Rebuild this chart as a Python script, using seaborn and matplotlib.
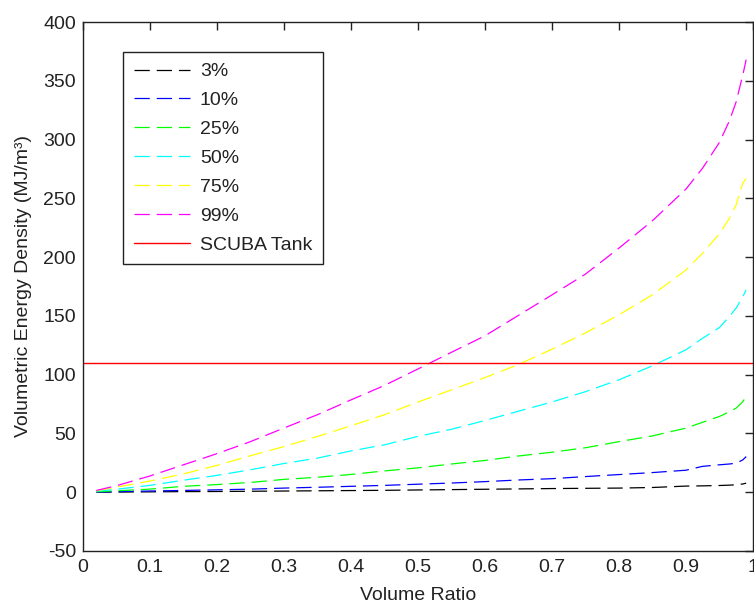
import numpy as np
import pandas as pd
import matplotlib
matplotlib.use("Agg")
import matplotlib.pyplot as plt
from matplotlib.lines import Line2D
import seaborn as sns

# Volume ratio samples shared by all curves
volume_ratio = [0.02, 0.05, 0.10, 0.15, 0.20, 0.25, 0.30, 0.35, 0.40, 0.45, 0.50,
                0.55, 0.60, 0.65, 0.70, 0.75, 0.80, 0.85, 0.90, 0.925, 0.95,
                0.965, 0.975, 0.985, 0.99]

# Volumetric energy density (MJ/m^3) per fill percentage
density_3 = [0.05, 0.1, 0.3, 0.5, 0.6, 0.8, 1.0, 1.2, 1.4, 1.6, 1.9,
             2.2, 2.5, 2.8, 3.1, 3.3, 3.5, 4.0, 5.2, 5.4, 5.7,
             6.0, 6.3, 7.0, 7.7]
density_10 = [0.2, 0.5, 1.0, 1.5, 2.0, 2.6, 3.5, 4.2, 5.0, 5.8, 6.8,
              7.8, 9.0, 10.4, 11.5, 13.3, 15.0, 16.7, 18.7, 22.0, 23.3,
              24.0, 24.7, 27.5, 30.3]
density_25 = [0.4, 1.2, 2.6, 5.0, 6.5, 8.3, 10.9, 12.7, 15.1, 18.1, 20.7,
              24.0, 27.0, 30.8, 34.0, 37.8, 43.0, 47.9, 54.5, 59.5, 64.4,
              68.5, 71.5, 77.0, 81.4]
density_50 = [0.8, 2.5, 5.8, 10.2, 14.3, 19.1, 24.4, 29.0, 35.1, 40.3, 47.5,
              53.5, 61.0, 68.9, 76.7, 85.5, 95.6, 107.5, 121.1, 131.0, 140.0,
              149.5, 156.6, 166.5, 172.0]
density_75 = [1.2, 4.3, 9.5, 15.6, 22.8, 31.0, 38.8, 47.4, 56.5, 65.9, 76.7,
              87.0, 97.5, 108.6, 121.6, 135.5, 150.9, 167.9, 189.0, 203.3, 219.8,
              233.0, 244.5, 263.0, 267.0]
density_99 = [1.5, 5.5, 13.8, 23.3, 32.8, 43.0, 54.6, 65.9, 78.5, 90.8, 104.8,
              119.0, 133.0, 150.4, 167.8, 185.5, 207.6, 230.9, 257.8, 275.7, 297.5,
              316.0, 332.0, 355.0, 368.0]

scuba_tank = 110.0

series_labels = ["3%", "10%", "25%", "50%", "75%", "99%"]
series_values = [density_3, density_10, density_25, density_50, density_75, density_99]
series_colors = ["#000000", "#0000ff", "#00ff00", "#00ffff", "#ffff00", "#ff00ff"]

x_ticks = [0, 0.1, 0.2, 0.3, 0.4, 0.5, 0.6, 0.7, 0.8, 0.9, 1.0]
x_tick_labels = ["0", "0.1", "0.2", "0.3", "0.4", "0.5", "0.6", "0.7", "0.8", "0.9", "1"]
y_ticks = [-50, 0, 50, 100, 150, 200, 250, 300, 350, 400]

df = pd.concat(
    [pd.DataFrame({"ratio": volume_ratio, "density": vals, "fill": lab})
     for lab, vals in zip(series_labels, series_values)],
    ignore_index=True,
)

sns.set_theme(style="white")
plt.rcParams["font.family"] = ["Liberation Sans", "DejaVu Sans"]
plt.rcParams["lines.scale_dashes"] = False
plt.rcParams["axes.unicode_minus"] = False

fig = plt.figure(figsize=(7.54, 6.05), dpi=100)
ax = fig.add_axes([0.110, 0.0893, 0.8885, 0.8743])

text_color = "#222222"
font_size = 14
dash = (11, 5)

sns.lineplot(
    data=df, x="ratio", y="density", hue="fill", style="fill",
    hue_order=series_labels, style_order=series_labels,
    palette=dict(zip(series_labels, series_colors)),
    dashes={lab: dash for lab in series_labels},
    linewidth=0.9, legend=False, ax=ax,
)
ax.axhline(scuba_tank, color="#ff0000", linewidth=1.0)

ax.set_xlim(0, 1)
ax.set_ylim(-50, 400)
ax.set_xticks(x_ticks)
ax.set_xticklabels(x_tick_labels)
ax.set_yticks(y_ticks)
ax.tick_params(axis="both", direction="in", length=6, width=1.0,
               color=text_color, labelsize=font_size, labelcolor=text_color,
               top=True, right=True)
ax.tick_params(axis="x", pad=6)
ax.tick_params(axis="y", pad=5)
for sp in ax.spines.values():
    sp.set_visible(True)
    sp.set_color(text_color)
    sp.set_linewidth(1.0)

ax.set_xlabel("Volume Ratio", fontsize=font_size, color=text_color, labelpad=8)
ax.set_ylabel("Volumetric Energy Density (MJ/m³)", fontsize=font_size,
              color=text_color, labelpad=8)

handles = [Line2D([], [], color=c, linewidth=0.9, linestyle=(0, dash))
           for c in series_colors]
handles.append(Line2D([], [], color="#ff0000", linewidth=1.0))
leg = ax.legend(
    handles, series_labels + ["SCUBA Tank"],
    loc="upper left", bbox_to_anchor=(0.0597, 0.9433), borderaxespad=0,
    fontsize=font_size, frameon=True, fancybox=False, framealpha=1,
    edgecolor=text_color, handlelength=2.9, handletextpad=0.5,
    labelspacing=0.58, borderpad=0.55,
)
leg.get_frame().set_linewidth(1.0)
for t in leg.get_texts():
    t.set_color(text_color)

fig.savefig("out.png", dpi=100, facecolor="white")
